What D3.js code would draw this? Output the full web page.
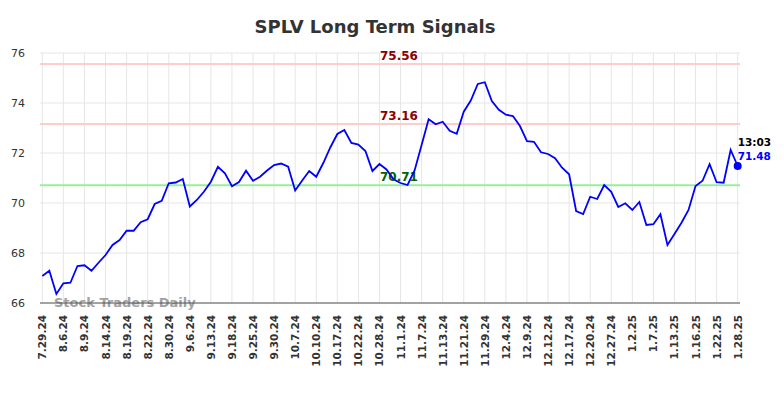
<!DOCTYPE html>
<html>
<head>
<meta charset="utf-8">
<script src="https://cdn.jsdelivr.net/npm/d3@7"></script>
<style>
  body { margin: 0; background: #fff; }
  text { font-family: "DejaVu Sans", sans-serif; }
</style>
</head>
<body>
<div id="chart"></div>
<script>
// tick labels, one every 3 points
const tickLabels = ["7.29.24", "8.6.24", "8.9.24", "8.14.24", "8.19.24", "8.22.24", "8.30.24",
    "9.6.24", "9.13.24", "9.18.24", "9.25.24", "9.30.24", "10.7.24", "10.10.24", "10.17.24",
    "10.22.24", "10.28.24", "11.1.24", "11.7.24", "11.13.24", "11.21.24", "11.29.24", "12.4.24",
    "12.9.24", "12.12.24", "12.17.24", "12.20.24", "12.27.24", "1.2.25", "1.7.25", "1.13.25",
    "1.16.25", "1.22.25", "1.28.25"];

const prices = [67.08, 67.29, 66.36, 66.79, 66.81, 67.48, 67.51, 67.29, 67.61, 67.92,
    68.32, 68.52, 68.89, 68.89, 69.23, 69.35, 69.96, 70.09, 70.79, 70.82,
    70.96, 69.86, 70.12, 70.45, 70.85, 71.45, 71.19, 70.67, 70.84, 71.29,
    70.89, 71.05, 71.30, 71.52, 71.58, 71.45, 70.50, 70.90, 71.28, 71.05,
    71.60, 72.22, 72.76, 72.92, 72.40, 72.34, 72.08, 71.28, 71.56, 71.34,
    70.95, 70.80, 70.72, 71.30, 72.32, 73.35, 73.15, 73.25, 72.89, 72.77,
    73.65, 74.10, 74.76, 74.83, 74.08, 73.73, 73.53, 73.48, 73.08, 72.47,
    72.45, 72.03, 71.96, 71.79, 71.41, 71.15, 69.68, 69.56, 70.25, 70.16,
    70.72, 70.45, 69.84, 69.99, 69.72, 70.04, 69.12, 69.15, 69.55, 68.32,
    68.76, 69.21, 69.72, 70.68, 70.89, 71.55, 70.83, 70.81, 72.12, 71.48];

const resistance = [75.56, 73.16];
const support = [70.71];
const yTicks = [66, 68, 70, 72, 74, 76];
const lastTime = "13:03";

const width = 784, height = 398;
const plotLeft = 40, plotRight = 740, plotTop = 53, plotBottom = 303;

const svg = d3.select("#chart").append("svg")
    .attr("width", width)
    .attr("height", height);

const x = d3.scaleLinear().domain([-0.33, prices.length - 0.67]).range([plotLeft, plotRight]);
const y = d3.scaleLinear().domain([66, 76]).range([plotBottom, plotTop]);

svg.append("text")
    .attr("x", 375).attr("y", 33)
    .attr("text-anchor", "middle")
    .style("font-size", "18px").style("font-weight", "bold")
    .attr("fill", "#333")
    .text("SPLV Long Term Signals");

// grid
svg.append("g").selectAll("line").data(yTicks).enter().append("line")
    .attr("x1", plotLeft).attr("x2", plotRight)
    .attr("y1", d => y(d)).attr("y2", d => y(d))
    .attr("stroke", "#e6e6e6");

const tickIdx = tickLabels.map((d, i) => i * 3);
svg.append("g").selectAll("line").data(tickIdx).enter().append("line")
    .attr("x1", d => x(d)).attr("x2", d => x(d))
    .attr("y1", plotTop).attr("y2", plotBottom)
    .attr("stroke", "#e6e6e6");

// y labels
svg.append("g").selectAll("text").data(yTicks).enter().append("text")
    .attr("x", 25).attr("y", d => y(d) + 4)
    .attr("text-anchor", "end")
    .style("font-size", "11px")
    .attr("fill", "#333")
    .text(d => d);

// x labels
svg.append("g").selectAll("text").data(tickLabels).enter().append("text")
    .attr("transform", (d, i) => `translate(${x(i * 3) + 4},315) rotate(-90)`)
    .attr("text-anchor", "end")
    .style("font-size", "10.5px").style("font-weight", "bold")
    .attr("fill", "#333")
    .text(d => d);

// level lines
const levels = resistance.map(v => ({ v, line: "#ffcccc", txt: "#8b0000" }))
    .concat(support.map(v => ({ v, line: "#99ee99", txt: "#006400" })));

svg.append("g").selectAll("line").data(levels).enter().append("line")
    .attr("x1", plotLeft).attr("x2", plotRight)
    .attr("y1", d => y(d.v)).attr("y2", d => y(d.v))
    .attr("stroke", d => d.line).attr("stroke-width", 2);

svg.append("g").selectAll("text").data(levels).enter().append("text")
    .attr("x", 399).attr("y", d => y(d.v) - 4)
    .attr("text-anchor", "middle")
    .style("font-size", "12px").style("font-weight", "bold")
    .attr("fill", d => d.txt)
    .text(d => d.v.toFixed(2));

// watermark
svg.append("text")
    .attr("x", 54).attr("y", 307)
    .style("font-size", "13px").style("font-weight", "bold")
    .attr("fill", "#999").attr("opacity", 0.9)
    .text("Stock Traders Daily");

// axis line
svg.append("line")
    .attr("x1", plotLeft).attr("x2", plotRight)
    .attr("y1", plotBottom).attr("y2", plotBottom)
    .attr("stroke", "#555").attr("stroke-width", 1.2);

// price line
const line = d3.line().x((d, i) => x(i)).y(d => y(d));
svg.append("path")
    .datum(prices)
    .attr("d", line)
    .attr("fill", "none")
    .attr("stroke", "#0000ff")
    .attr("stroke-width", 1.8);

const last = prices.length - 1;
svg.append("circle")
    .attr("cx", x(last)).attr("cy", y(prices[last]))
    .attr("r", 4).attr("fill", "#0000ff");

svg.append("text")
    .attr("x", x(last)).attr("y", y(prices[last]) - 20)
    .style("font-size", "10.5px").style("font-weight", "bold")
    .attr("fill", "#000")
    .text(lastTime);

svg.append("text")
    .attr("x", x(last)).attr("y", y(prices[last]) - 6)
    .style("font-size", "10.5px").style("font-weight", "bold")
    .attr("fill", "#0000ff")
    .text(prices[last].toFixed(2));
</script>
</body>
</html>
